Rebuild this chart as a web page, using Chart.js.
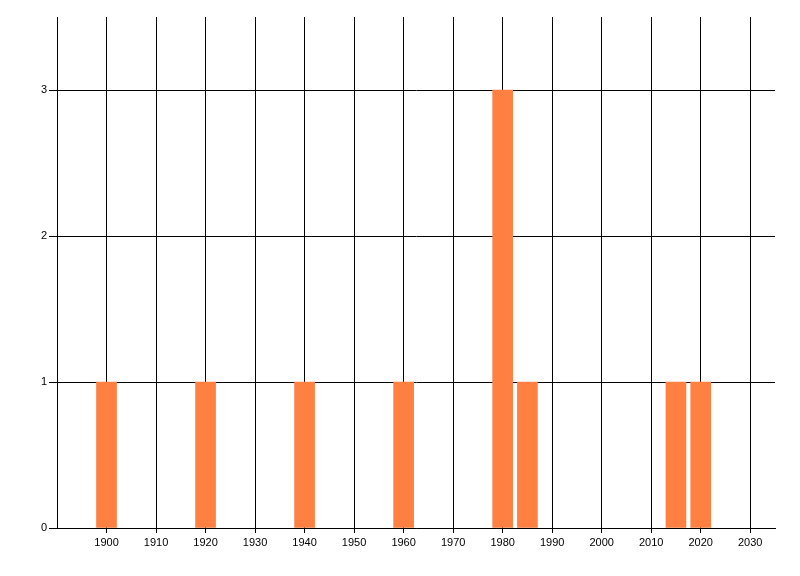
<!DOCTYPE html>
<html>
<head>
<meta charset="utf-8">
<script src="https://cdn.jsdelivr.net/npm/chart.js@4/dist/chart.umd.min.js"></script>
<style>
  body { margin: 0; background: #fff; }
  canvas { display: block; }
</style>
</head>
<body>
<canvas id="chart" width="800" height="576"></canvas>
<script>
const years = [1900, 1920, 1940, 1960, 1980, 1985, 2015, 2020];
const counts = [1, 1, 1, 1, 3, 1, 1, 1];
const xTicks = [1900, 1910, 1920, 1930, 1940, 1950, 1960, 1970, 1980, 1990, 2000, 2010, 2020, 2030];
const yTicks = [0, 1, 2, 3];

const tickFont = { family: "'Liberation Sans', Arial, sans-serif", size: 11 };

const ctx = document.getElementById('chart').getContext('2d');
new Chart(ctx, {
    type: 'bar',
    data: {
        datasets: [{
            data: years.map((y, i) => ({ x: y, y: counts[i] })),
            backgroundColor: '#ff8040',
            borderWidth: 0,
            barThickness: 20
        }]
    },
    options: {
        responsive: false,
        animation: false,
        layout: { padding: { top: 17, right: 25, bottom: 0, left: 0 } },
        plugins: { legend: { display: false }, tooltip: { enabled: false } },
        scales: {
            x: {
                type: 'linear',
                min: 1890,
                max: 2035,
                offset: false,
                afterBuildTicks: scale => { scale.ticks = xTicks.map(v => ({ value: v })); },
                afterFit: scale => { scale.height = 48; },
                grid: { color: '#000', lineWidth: 1, tickLength: 5, offset: false },
                border: { color: '#000', width: 1 },
                ticks: {
                    color: '#000', font: tickFont, padding: 3, maxRotation: 0, autoSkip: false,
                    callback: v => String(v)
                }
            },
            y: {
                min: 0,
                max: 3.5,
                afterBuildTicks: scale => { scale.ticks = yTicks.map(v => ({ value: v })); },
                afterFit: scale => { scale.width = 57; },
                grid: { color: '#000', lineWidth: 1, tickLength: 8 },
                border: { color: '#000', width: 1 },
                ticks: { color: '#000', font: tickFont, padding: 2, callback: v => String(v) }
            }
        }
    }
});
</script>
</body>
</html>
